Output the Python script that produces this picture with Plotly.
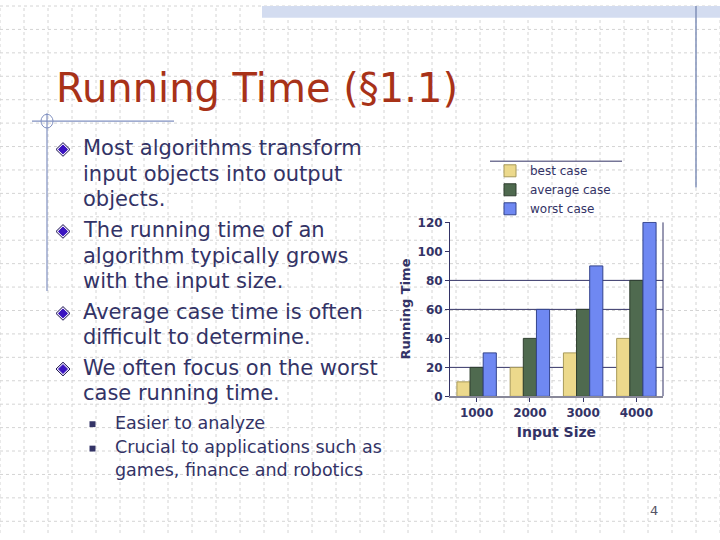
import plotly.graph_objects as go

# chart data
input_sizes = ["1000", "2000", "3000", "4000"]
best_case = [10, 20, 30, 40]
average_case = [20, 40, 60, 80]
worst_case = [30, 60, 90, 120]
y_ticks = [0, 20, 40, 60, 80, 100, 120]
grid_values = [20, 60, 80]

# slide text
title_text = "Running Time (§1.1)"
bullet_lines = [
    ("Most algorithms transform", True),
    ("input objects into output", False),
    ("objects.", False),
    ("The running time of an", True),
    ("algorithm typically grows", False),
    ("with the input size.", False),
    ("Average case time is often", True),
    ("difficult to determine.", False),
    ("We often focus on the worst", True),
    ("case running time.", False),
]
bullet_y = [146, 172, 198, 230, 256, 282, 314, 339, 371, 397]
sub_lines = [
    ("Easier to analyze", True),
    ("Crucial to applications such as", True),
    ("games, finance and robotics", False),
]
sub_y = [427, 452, 475]

W, H = 720, 540
NAVY = "#333366"
FONT = "DejaVu Sans"


def px(x):
    return x / W


def py(y):
    return 1 - y / H


def diamond(cx, cy, r, fill, edge):
    path = "M {} {} L {} {} L {} {} L {} {} Z".format(
        px(cx - r), py(cy), px(cx), py(cy - r), px(cx + r), py(cy), px(cx), py(cy + r))
    return dict(type="path", xref="paper", yref="paper", path=path, fillcolor=fill,
                line=dict(color=edge, width=1))


fig = go.Figure()

fig.add_trace(go.Bar(x=input_sizes, y=best_case, name="best case",
                     marker=dict(color="#ecd98c", line=dict(color="#a89a5a", width=1))))
fig.add_trace(go.Bar(x=input_sizes, y=average_case, name="average case",
                     marker=dict(color="#4f6a4f", line=dict(color="#2e3e2e", width=1))))
fig.add_trace(go.Bar(x=input_sizes, y=worst_case, name="worst case",
                     marker=dict(color="#6f88f2", line=dict(color="#34448c", width=1))))

shapes = []
# dotted background grid
for gx in range(0, W + 1, 24):
    shapes.append(dict(type="line", xref="paper", yref="paper", x0=px(gx), x1=px(gx), y0=0, y1=1,
                       line=dict(color="#d4d4d4", width=1, dash="dot"), layer="below"))
for gy in range(0, H + 1, 24):
    shapes.append(dict(type="line", xref="paper", yref="paper", x0=0, x1=1, y0=py(gy), y1=py(gy),
                       line=dict(color="#d4d4d4", width=1, dash="dot"), layer="below"))
# top band and decorations
shapes.append(dict(type="rect", xref="paper", yref="paper", x0=px(262), x1=1, y0=py(12), y1=1,
                   fillcolor="#d3dcf0", line=dict(width=0), layer="below"))
shapes.append(dict(type="line", xref="paper", yref="paper", x0=px(696), x1=px(696), y0=py(186), y1=1,
                   line=dict(color="#8090b8", width=1.5)))
shapes.append(dict(type="line", xref="paper", yref="paper", x0=px(32), x1=px(174), y0=py(118), y1=py(118),
                   line=dict(color="#8090c0", width=1.2)))
shapes.append(dict(type="line", xref="paper", yref="paper", x0=px(47), x1=px(47), y0=py(292), y1=py(110),
                   line=dict(color="#8090c0", width=1.2)))
shapes.append(dict(type="circle", xref="paper", yref="paper", x0=px(41), x1=px(53), y0=py(125), y1=py(111),
                   line=dict(color="#8090c0", width=1)))
# legend rule
shapes.append(dict(type="line", xref="paper", yref="paper", x0=px(490), x1=px(622), y0=py(159), y1=py(159),
                   line=dict(color=NAVY, width=1)))
# horizontal gridlines of the chart
for gv in grid_values:
    shapes.append(dict(type="line", xref="x domain", yref="y", x0=0, x1=1, y0=gv, y1=gv,
                       line=dict(color=NAVY, width=1), layer="below"))
# right wall of chart
shapes.append(dict(type="line", xref="x domain", yref="y", x0=1, x1=1, y0=0, y1=120,
                   line=dict(color=NAVY, width=1)))

annotations = [
    dict(text=title_text, x=px(54), y=py(84), xref="paper", yref="paper", xanchor="left", yanchor="middle",
         showarrow=False, font=dict(family=FONT, size=40, color="#a83218")),
    dict(text="4", x=px(654), y=py(517), xref="paper", yref="paper", xanchor="center", yanchor="middle",
         showarrow=False, font=dict(family=FONT, size=13, color="#555566")),
]
for (line, has_bullet), yy in zip(bullet_lines, bullet_y):
    annotations.append(dict(text=line, x=px(81), y=py(yy), xref="paper", yref="paper", xanchor="left",
                            yanchor="middle", showarrow=False, font=dict(family=FONT, size=21, color=NAVY)))
    if has_bullet:
        shapes.append(diamond(63, yy + 1, 7, "#e8e4f8", "#1e1450"))
        shapes.append(diamond(63, yy + 1, 4.5, "#3a14c0", "#3a14c0"))
for (line, has_bullet), yy in zip(sub_lines, sub_y):
    annotations.append(dict(text=line, x=px(113), y=py(yy), xref="paper", yref="paper", xanchor="left",
                            yanchor="middle", showarrow=False, font=dict(family=FONT, size=17.5, color=NAVY)))
    if has_bullet:
        shapes.append(dict(type="rect", xref="paper", yref="paper", x0=px(89.5), x1=px(95.5),
                           y0=py(yy + 4.5), y1=py(yy - 1.5), fillcolor=NAVY, line=dict(width=0)))

fig.update_layout(
    width=W, height=H,
    margin=dict(l=0, r=0, t=0, b=0),
    paper_bgcolor="white", plot_bgcolor="rgba(0,0,0,0)",
    barmode="group", bargap=0.26, bargroupgap=0.0,
    shapes=shapes, annotations=annotations,
    legend=dict(x=px(490), y=py(154), xanchor="left", yanchor="top", bgcolor="rgba(0,0,0,0)",
                font=dict(family=FONT, size=12, color=NAVY), tracegroupgap=0, itemwidth=30),
    xaxis=dict(domain=[px(450), px(663)], showline=True, linecolor="#888899", linewidth=2,
               tickfont=dict(family=FONT, size=12, color=NAVY, weight="bold"),
               title=dict(text="Input Size", font=dict(family=FONT, size=14, color=NAVY, weight="bold"),
                          standoff=8),
               ticks="outside", ticklen=4, tickcolor=NAVY),
    yaxis=dict(domain=[py(400), py(221)], range=[0, 120.5], tickvals=y_ticks, showgrid=False,
               showline=True, linecolor=NAVY, linewidth=1, ticks="outside", ticklen=4, tickcolor=NAVY,
               tickfont=dict(family=FONT, size=12, color=NAVY, weight="bold"), zeroline=False,
               title=dict(text="Running Time", font=dict(family=FONT, size=13, color=NAVY, weight="bold"),
                          standoff=3)),
)

fig.write_html("out.html", config={"displayModeBar": False},
               post_script="document.body.style.margin='0';")
